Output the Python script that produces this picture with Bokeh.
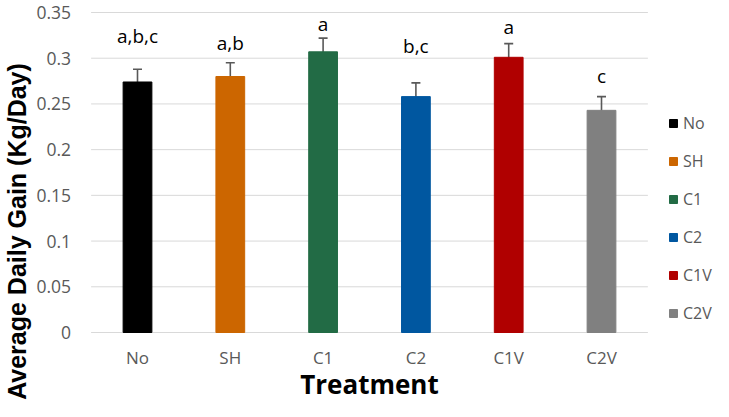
import math
from bokeh.plotting import figure
from bokeh.models import (ColumnDataSource, Range1d, FixedTicker, Whisker,
                          TeeHead, Legend, LegendItem, Label)
from bokeh.core.properties import value
from bokeh.embed import file_html
from bokeh.resources import INLINE

# ---- data ----
treatments = ["No", "SH", "C1", "C2", "C1V", "C2V"]
adg = [0.274, 0.280, 0.307, 0.258, 0.301, 0.243]
se = [0.014, 0.015, 0.015, 0.015, 0.015, 0.015]
letters = ["a,b,c", "a,b", "a", "b,c", "a", "c"]
colors = ["#000000", "#CC6600", "#226B45", "#0057A0", "#B00000", "#808080"]
y_ticks = [0, 0.05, 0.1, 0.15, 0.2, 0.25, 0.3, 0.35]
y_tick_labels = ["0", "0.05", "0.1", "0.15", "0.2", "0.25", "0.3", "0.35"]

# vertical centre of each significance label (data units)
label_pos = [0.3245, 0.3165, 0.3376, 0.3129, 0.3337, 0.2801]

n = len(treatments)
xpos = [i + 0.5 for i in range(n)]          # category slots on the x scale

# ---- layout (pixels) ----
W, H = 713, 401
left_px, right_px = 90.6, 65.6   # room left of / right of the category area
bottom_px, top_px = 69, 12       # room below 0 / above 0.35
ymax = y_ticks[-1]
xunit = (W - left_px - right_px) / n
yunit = (H - bottom_px - top_px) / ymax


def sx(px):   # canvas x pixel -> data x
    return (px - left_px) / xunit


def sy(py):   # canvas y pixel (from top) -> data y
    return (H - bottom_px - py) / yunit


src = ColumnDataSource(dict(
    x=xpos, top=adg, color=colors,
    upper=[m + e for m, e in zip(adg, se)],
    lower=[m - e for m, e in zip(adg, se)],
    ly=label_pos, txt=letters,
))

p = figure(width=W, height=H, output_backend="svg", toolbar_location=None,
           x_range=Range1d(sx(0), sx(W)), y_range=Range1d(sy(H), sy(0)),
           min_border=0, min_border_left=0, min_border_right=0,
           min_border_top=0, min_border_bottom=0)
p.outline_line_color = None
p.background_fill_color = "white"
p.border_fill_color = "white"

# horizontal gridlines over the category area
p.xgrid.grid_line_color = None
p.ygrid.grid_line_color = None
p.segment(x0=[0] * len(y_ticks), x1=[n] * len(y_ticks), y0=y_ticks, y1=y_ticks,
          line_color="#D9D9D9", line_width=1, level="underlay")

bars = p.vbar(x="x", top="top", width=0.31, source=src, fill_color="color", line_color="color")

wh = Whisker(base="x", upper="upper", lower="lower", source=src, dimension="height",
             line_color="#595959", line_width=1.6,
             upper_head=TeeHead(size=9, line_color="#595959", line_width=1.6),
             lower_head=TeeHead(size=9, line_color="#595959", line_width=1.6))
p.add_layout(wh)

p.text(x="x", y="ly", text="txt", source=src, text_align="center", text_baseline="middle",
       text_font=value("Open Sans"), text_font_size="19px", text_color="black")

# axes, pinned at x=0 / y=0 inside the canvas
p.yaxis.fixed_location = 0
p.xaxis.fixed_location = 0
p.yaxis.ticker = FixedTicker(ticks=y_ticks)
p.yaxis.major_label_overrides = {t: l for t, l in zip(y_ticks, y_tick_labels)}
p.xaxis.ticker = FixedTicker(ticks=xpos)
p.xaxis.major_label_overrides = {x: t for x, t in zip(xpos, treatments)}
for ax in (p.xaxis, p.yaxis):
    ax.axis_line_color = None
    ax.major_tick_line_color = None
    ax.minor_tick_line_color = None
    ax.major_tick_in = 0
    ax.major_tick_out = 0
    ax.minor_tick_in = 0
    ax.minor_tick_out = 0
    ax.major_label_text_font = "Open Sans"
    ax.major_label_text_color = "#595959"
p.yaxis.major_label_text_font_size = "17.5px"
p.xaxis.major_label_text_font_size = "17px"
p.yaxis.major_label_standoff = 20
p.xaxis.major_label_standoff = 13

# axis titles
p.add_layout(Label(x=sx(16), y=sy(231),
                   text="Average Daily Gain (Kg/Day)", angle=math.pi / 2,
                   text_align="center", text_baseline="middle",
                   text_font="Liberation Sans", text_font_style="bold",
                   text_font_size="25px", text_color="black"))
p.add_layout(Label(x=sx(369), y=sy(383),
                   text="Treatment", text_align="center", text_baseline="middle",
                   text_font="Open Sans", text_font_style="bold",
                   text_font_size="26px", text_color="black"))

# legend
items = [LegendItem(label=t, renderers=[bars], index=i) for i, t in enumerate(treatments)]
legend = Legend(items=items, location=(668, 77), orientation="vertical",
                glyph_width=10, glyph_height=10, label_height=20, spacing=16,
                label_standoff=5, padding=0, margin=0,
                border_line_color=None, background_fill_alpha=0,
                label_text_font="Open Sans", label_text_font_size="16px",
                label_text_color="#595959")
p.add_layout(legend, "center")

open("out.html", "w").write(file_html(p, INLINE))
